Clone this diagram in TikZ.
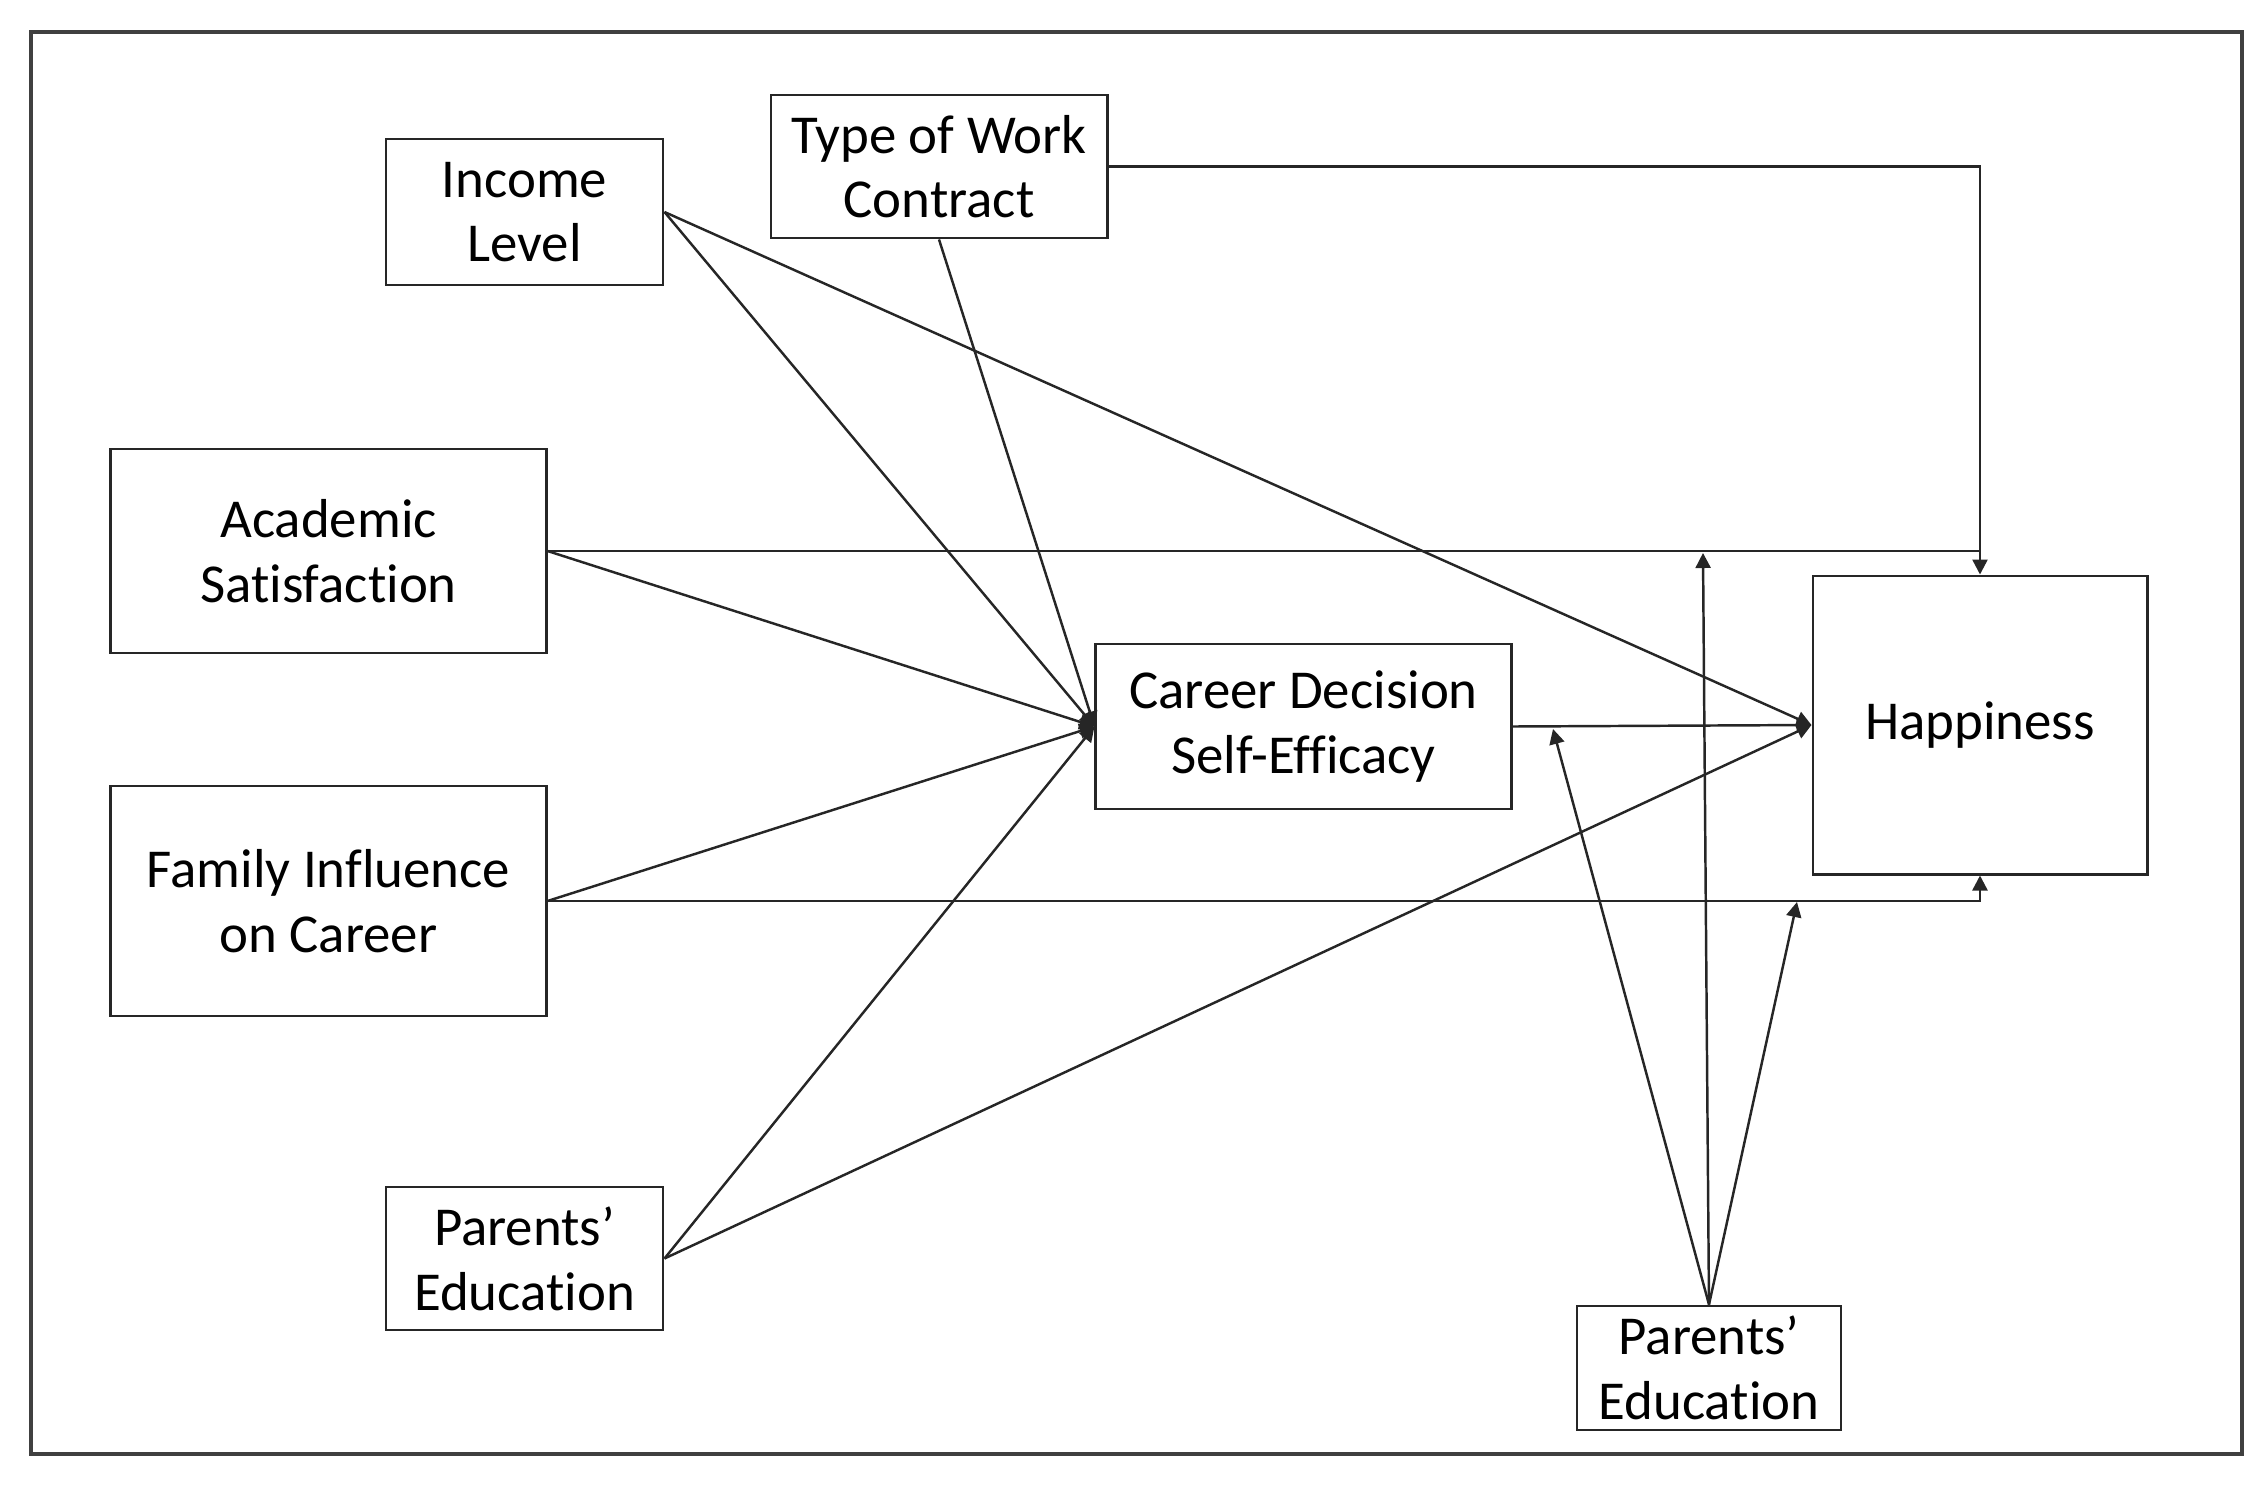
\documentclass[tikz,border=0pt]{standalone}
\usepackage{fontspec}
\setmainfont{Carlito}[Ligatures={NoCommon}]
\usetikzlibrary{arrows.meta}
\begin{document}
\begin{tikzpicture}[x=0.01cm,y=-0.01cm,
  box/.style={draw=black!85,line width=0.8pt,align=center,inner sep=0pt,
    font=\fontsize{15.6}{18.4}\selectfont},
  conn/.style={draw=black!85,line width=0.7pt},
  arr/.style={conn,-{Triangle[length=0.15cm,width=0.15cm]}}]
\useasboundingbox (0,0) rectangle (2265,1490);
\draw[draw=black!75,line width=1.1pt] (31,32) rectangle (2242,1454);
% nodes
\node[box,minimum width=2.77cm,minimum height=1.46cm] (inc) at (524.5,212) {Income\\Level};
\node[box,minimum width=3.36cm,minimum height=1.43cm] (twc) at (939,166.5) {Type of Work\\Contract};
\node[box,minimum width=4.35cm,minimum height=2.04cm] (acad) at (328.5,551) {Academic\\Satisfaction};
\node[box,minimum width=4.35cm,minimum height=2.30cm] (fam) at (328.5,901) {Family Influence\\on Career};
\node[box,minimum width=2.77cm,minimum height=1.43cm] (pel) at (524.5,1258.5) {Parents'\\Education};
\node[box,minimum width=4.15cm,minimum height=1.65cm] (cdse) at (1303.5,726.5) {Career Decision\\Self-Efficacy};
\node[box,minimum width=3.34cm,minimum height=2.98cm] (hap) at (1980,725) {Happiness};
\node[box,minimum width=2.64cm,minimum height=1.24cm] (peb) at (1709,1368) {Parents'\\Education};
% moderation targets
\coordinate (m1) at (1553,729);
\coordinate (m2) at (1703,553);
\coordinate (m3) at (1797,902);
% connectors to CDSE
\draw[arr] (inc.east) -- (cdse.west);
\draw[arr] (twc.south) -- (cdse.west);
\draw[arr] (acad.east) -- (cdse.west);
\draw[arr] (fam.east) -- (cdse.west);
\draw[arr] (pel.east) -- (cdse.west);
% connectors to Happiness
\draw[arr] (inc.east) -- (hap.west);
\draw[arr] (pel.east) -- (hap.west);
\draw[arr] (cdse.east) -- (hap.west);
\draw[arr] (twc.east) -| (hap.north);
\draw[conn] (acad.east) -- (acad.east -| hap.north);
\draw[arr] (fam.east) -| (hap.south);
% moderator
\draw[arr] (peb.north) -- (m1);
\draw[arr] (peb.north) -- (m2);
\draw[arr] (peb.north) -- (m3);
\end{tikzpicture}
\end{document}
